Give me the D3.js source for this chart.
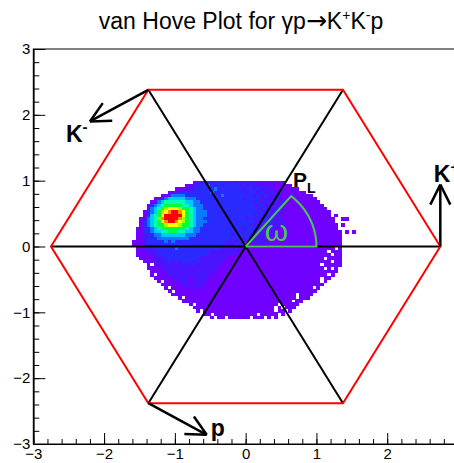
<!DOCTYPE html>
<html lang="en">
<head>
<meta charset="UTF-8">
<title>van Hove Plot</title>
<script src="https://d3js.org/d3.v7.min.js"></script>
<style>
  body { margin: 0; background: #fff; }
  svg text { font-family: "Liberation Sans", Arial, Helvetica, sans-serif; }
</style>
</head>
<body>
<div id="chart"></div>
<script>
// axis ticks
const xTicks = [-3, -2, -1, 0, 1, 2, 3];
const yTicks = [-3, -2, -1, 0, 1, 2, 3];

// 2D histogram: 0.05 x 0.05 bins. column 0 starts at x=-1.6, row 0 starts at y=1.0 (going down)
// each row = [first column, level string]; '.' = empty bin, levels 1..B (spaces only for reading)
const binX0 = -1.6, binY0 = 1.0, binW = 0.05;
const levelCodes = ".123456789AB";
const levelColors = ["none", "#7000ff", "#4a14ff", "#2a2aff", "#0a78ff", "#00c8ff",
                     "#00ffb4", "#00ff3c", "#a0ff00", "#ffff00", "#ff8c00", "#ff0000"];
const histRows = [
  [17, "11 22 323332 232322 2212 111111"],
  [15, "11 2 33 34333233 332323 2222 1211111"],
  [12, "11 12 2333 33343333 333233 23222 21111111"],
  [10, "11 23 333333 33433333 333323 32322 2211111111"],
  [8,  "11 3 4444 3 3333 33333433 333333 23232 222 111111111"],
  [6,  "11 3 4 55555 44 4 333 3333333 333233 33222 222 1111111111"],
  [5,  "11 4 5 666666 55 44 333 333333 333333 232322 222 1111111111"],
  [4,  "13 4 5 6 77777 6 6 5 44 433 333333 333333 323222 222 11111111111"],
  [4,  "1 4 5 6 7 8 999 8 77 6 5 44 333 33333 333333 332322 222 111111111111"],
  [3,  "1 3 4 5 7 8 9 A BB A 9 7 6 5 44 433 33333 333333 323232 22 11111111111111"],
  [3,  "1 3 5 6 7 9 BBBBB 9 7 6 5 44 433 33333 333333 233232 22 11111111111111 .1"],
  [2,  "114568A BBBB A8765 44 333 33333 333323 232322 22 111111111111111 ..11"],
  [2,  "1345679A BB A98765 44 433 33333 333333 322323 222 11111111111111"],
  [2,  "13456778 999 87765 44 333 33333 333333 232322 222 111111111111111 .1"],
  [1,  "1133456 7777777 65 44 3333 33333 333233 322222 2 1111111111 1111111"],
  [1,  "1133455 6677766 554 43333 33333 332333 222222 2 1111111111 11111111 .1.1"],
  [1,  "11 2 3 3 4 4 5555555 44 433333 33333 233332 222212 1111111111 111111111"],
  [1,  "11 2 333 444444444 3333333 33333 333232 222221 1111111111 111111111"],
  [0,  "1 11 2 3333 343433 333333333 33332 323222 222211 1111111111 111111111"],
  [0,  "111 2 3333333333 333333333 33322 232221 212111 1111111111 111111111"],
  [1,  "11 22 23 3333343333333333 33222 222211 111111 1111111111 1111111.1"],
  [1,  "11 1222 3333333333333332 22222 221111 111111 1111111111 11111.111"],
  [1,  "111122 2333333333333322 22222 211111 1111111111 1111111111 11.11"],
  [2,  "11112 2233333333332222 22221 1111111111 1111111111 111111.111 1"],
  [3,  "11122 223232333232222 22211 1111111111 1111111111 11111111.1 1"],
  [4,  "1.122 22222322322222 22111 1111111111 1111111111 11111.1111 1"],
  [4,  "11112 22222222222222 21111 1111111111 1111111111 111111.1.1"],
  [5,  "11112 2222222222222 21111 1111111111 1111111111 1111111111"],
  [5,  "1.111 222222222222 1111111111 1111111111 1111111111 111.1"],
  [6,  "11111 22222122222 1111111111 1111111111 1111111111 1.11"],
  [7,  "1.1111 22212222 1111111111 1111111111 1111111111 11.1"],
  [8,  "111111 221222 1111111111 1111111111 1111111111 1111"],
  [9,  "1.11111 2212 1111111111 1111111111 1111111111 1.1"],
  [10, "1.11111111 1111111111 1111111111 1111111111 11"],
  [11, "1111111111 1111111111 1111111111 11111.1111"],
  [13, "1.11111111 1111111111 1111111111 111.111"],
  [14, "1111111111 1111111111 1111111111 1.11"],
  [16, "1.11111111 1111111111 11111.1111 1"],
  [17, "1111111111 1111111111 111.1.111"],
  [18, "1.11111111 1111111111 11.11.1"],
  [20, "11.1111111 11111.1111 1.1"],
  [22, "1.11.11111 1.111.1.1"]
];

// kinematic boundary (hexagon corners)
const hexCorners = [[2.75, 0], [1.375, 2.38], [-1.375, 2.38], [-2.75, 0], [-1.375, -2.38], [1.375, -2.38]];

// particle direction arrows
const arrowNames = ["K", "K", "p"];
const arrowSups = ["+", "-", ""];
const arrowFrom = [[2.75, 0], [-1.375, 2.38], [-1.375, -2.38]];
const arrowTo = [[2.75, 0.94], [-2.2, 1.9], [-0.55, -2.86]];

// omega angle marker
const omegaRadius = 1.0;
const omegaDeg = 50;

const width = 454, height = 463;
const svg = d3.select("#chart").append("svg")
  .attr("width", width)
  .attr("height", height)
  .style("overflow", "hidden");

const x = d3.scaleLinear().domain([-3, 3]).range([33.3, 458]);
const y = d3.scaleLinear().domain([-3, 3]).range([444, 49]);

// histogram cells
const cells = [];
histRows.forEach(([c0, str], r) => {
  str.replace(/ /g, "").split("").forEach((ch, k) => {
    const lev = levelCodes.indexOf(ch);
    if (lev > 0) cells.push({ x0: binX0 + (c0 + k) * binW, y1: binY0 - r * binW, lev: lev });
  });
});
svg.append("g")
  .attr("shape-rendering", "crispEdges")
  .selectAll("rect")
  .data(cells)
  .join("rect")
  .attr("x", d => x(d.x0))
  .attr("y", d => y(d.y1))
  .attr("width", d => x(d.x0 + binW) - x(d.x0) + 0.4)
  .attr("height", d => y(d.y1 - binW) - y(d.y1) + 0.4)
  .attr("fill", d => levelColors[d.lev]);

// frame
svg.append("rect")
  .attr("x", x(-3)).attr("y", y(3))
  .attr("width", x(3) - x(-3)).attr("height", y(-3) - y(3))
  .attr("fill", "none").attr("stroke", "#000").attr("stroke-width", 1);

// axes, ticks inside the frame like ROOT
function styleAxis(g) {
  g.select(".domain").attr("stroke", "#000").attr("stroke-width", 1.2);
  g.selectAll(".tick line").attr("stroke", "#000").attr("stroke-width", 1);
  g.selectAll("text").attr("font-size", 15).attr("fill", "#000")
    .attr("font-family", "'Liberation Sans', Arial, sans-serif");
}
const intFmt = d3.format("d");
svg.append("g").attr("transform", `translate(0,${y(-3)})`)
  .call(d3.axisBottom(x).ticks(30).tickSize(-5).tickSizeOuter(0).tickFormat(""))
  .call(styleAxis);
svg.append("g").attr("transform", `translate(0,${y(-3)})`)
  .call(d3.axisBottom(x).tickValues(xTicks).tickSize(-11).tickSizeOuter(0).tickPadding(4).tickFormat(intFmt))
  .call(styleAxis);
svg.append("g").attr("transform", `translate(${x(-3)},0)`)
  .call(d3.axisLeft(y).ticks(30).tickSize(-6).tickSizeOuter(0).tickFormat(""))
  .call(styleAxis);
svg.append("g").attr("transform", `translate(${x(-3)},0)`)
  .call(d3.axisLeft(y).tickValues(yTicks).tickSize(-12).tickSizeOuter(0).tickPadding(3).tickFormat(intFmt))
  .call(styleAxis);

// black lines through the centre
for (let i = 0; i < 3; i++) {
  const a = hexCorners[i], b = hexCorners[i + 3];
  svg.append("line")
    .attr("x1", x(a[0])).attr("y1", y(a[1]))
    .attr("x2", x(b[0])).attr("y2", y(b[1]))
    .attr("stroke", "#000").attr("stroke-width", 2);
}

// red hexagon
svg.append("polygon")
  .attr("points", hexCorners.map(p => [x(p[0]), y(p[1])].join(",")).join(" "))
  .attr("fill", "none").attr("stroke", "#ff0000").attr("stroke-width", 2);

// omega marker
const arcPts = [[0, 0]].concat(d3.range(0, omegaDeg + 1, 2).map(a =>
  [omegaRadius * Math.cos(a * Math.PI / 180), omegaRadius * Math.sin(a * Math.PI / 180)]), [[0, 0]]);
svg.append("path")
  .attr("d", d3.line().x(p => x(p[0])).y(p => y(p[1]))(arcPts))
  .attr("fill", "none").attr("stroke", "#4cc94c").attr("stroke-width", 2)
  .attr("stroke-linejoin", "miter");
svg.append("text")
  .attr("x", x(0.27)).attr("y", y(0.08))
  .attr("font-size", 30)
  .attr("font-family", "'Liberation Serif', 'DejaVu Serif', serif")
  .attr("fill", "#4cc94c")
  .text("ω");

// P_L label
const pl = svg.append("text")
  .attr("x", x(0.67)).attr("y", y(0.9))
  .attr("font-size", 21).attr("font-weight", "bold").attr("fill", "#000");
pl.append("tspan").text("P");
pl.append("tspan").attr("font-size", 14).attr("dy", 6).text("L");

// arrows with labels
const labelShift = [[-6.5, -3], [-24, 21], [4, 1.5]];
arrowNames.forEach((name, i) => {
  const x1 = x(arrowFrom[i][0]), y1 = y(arrowFrom[i][1]);
  const x2 = x(arrowTo[i][0]), y2 = y(arrowTo[i][1]);
  const ang = Math.atan2(y2 - y1, x2 - x1);
  const g = svg.append("g").attr("stroke", "#000").attr("stroke-width", 2.5)
    .attr("stroke-linecap", "butt");
  g.append("line").attr("x1", x1).attr("y1", y1).attr("x2", x2).attr("y2", y2);
  [-1, 1].forEach(s => {
    const wx = x2 - 20 * Math.cos(ang) + s * 10 * Math.sin(ang);
    const wy = y2 - 20 * Math.sin(ang) - s * 10 * Math.cos(ang);
    g.append("line").attr("x1", x2).attr("y1", y2).attr("x2", wx).attr("y2", wy);
  });
  const t = svg.append("text")
    .attr("x", x2 + labelShift[i][0]).attr("y", y2 + labelShift[i][1])
    .attr("font-size", 23).attr("font-weight", "bold").attr("fill", "#000");
  t.append("tspan").text(name);
  if (arrowSups[i]) t.append("tspan").attr("font-size", 15).attr("dy", -10).text(arrowSups[i]);
});

// title
const title = svg.append("text")
  .attr("x", 241).attr("y", 29)
  .attr("text-anchor", "middle")
  .attr("font-size", 23).attr("fill", "#000");
title.append("tspan").text("van Hove Plot for γp");
title.append("tspan").attr("font-family", "'DejaVu Sans', sans-serif").attr("font-size", 25).text("→");
title.append("tspan").text("K");
title.append("tspan").attr("font-size", 14).attr("dy", -9).text("+");
title.append("tspan").attr("dy", 9).text("K");
title.append("tspan").attr("font-size", 14).attr("dy", -9).text("-");
title.append("tspan").attr("dy", 9).text("p");
</script>
</body>
</html>
